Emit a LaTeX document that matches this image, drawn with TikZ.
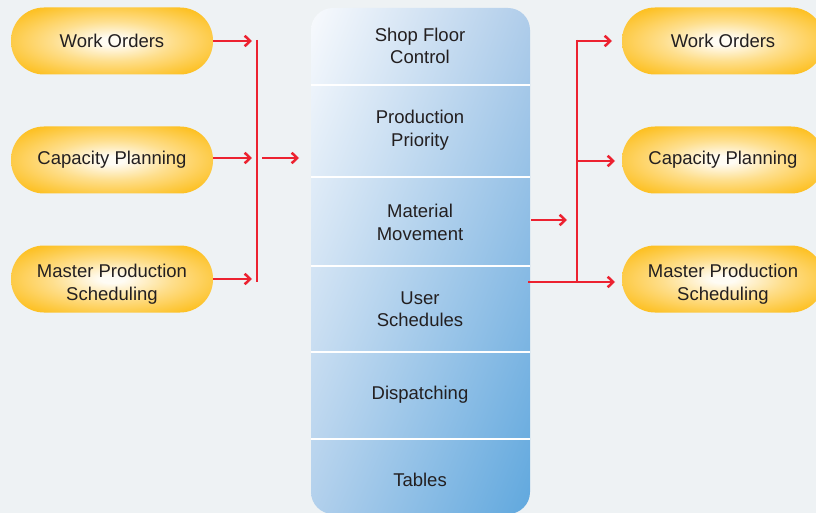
\documentclass[tikz,border=0pt]{standalone}
\usepackage{fontspec}
\setmainfont{Liberation Sans}
\usetikzlibrary{arrows.meta,shadings}
\definecolor{bg}{HTML}{EEF2F4}
\definecolor{pillout}{HTML}{FDC125}
\definecolor{pillin}{HTML}{FFFCF4}
\definecolor{arrowred}{HTML}{EC2230}
\definecolor{txt}{HTML}{231F20}
\definecolor{colUL}{HTML}{F8FAFD}
\definecolor{colUR}{HTML}{B0CDEA}
\definecolor{colLL}{HTML}{B2D0EC}
\definecolor{colLR}{HTML}{60A8DE}
\pgfdeclareradialshading{pillshade}{\pgfpoint{0bp}{0bp}}{%
  color(0bp)=(pillin); color(3bp)=(pillin); color(15bp)=(pillout!50!pillin);
  color(30bp)=(pillout); color(50bp)=(pillout)}
\newcommand{\dropby}[2]{\raisebox{-#1}[\height][\depth]{#2}}
\tikzset{
  pill/.style={shading=pillshade, shade, rounded corners=33pt,
    minimum width=202pt, minimum height=67pt, inner sep=0pt, text=txt, align=center,
    font=\fontsize{18.5}{22.5}\selectfont},
  rowtext/.style={text=txt, align=center, font=\fontsize{18.5}{22.5}\selectfont, inner sep=0pt},
  link/.style={draw=arrowred, line width=2.5pt},
  arr/.style={link, -{Straight Barb[length=5.5pt,width=10.5pt]}},
  divider/.style={draw=white, line width=2.2pt}
}
\begin{document}
\begin{tikzpicture}[x=1pt,y=-1pt]
\useasboundingbox (0,0) rectangle (816,513);
\fill[bg] (0,0) rectangle (816,513);
\clip (0,0) rectangle (816,513);
% column
\shade[upper left=colUL, upper right=colUR, lower left=colLL, lower right=colLR,
       rounded corners=22pt] (311,8) rectangle (530,514);
\coordinate (c1L) at (311,85);  \coordinate (c1R) at (530,85);
\coordinate (c2L) at (311,177); \coordinate (c2R) at (530,177);
\coordinate (c3L) at (311,266); \coordinate (c3R) at (530,266);
\coordinate (c4L) at (311,352); \coordinate (c4R) at (530,352);
\coordinate (c5L) at (311,439); \coordinate (c5R) at (530,439);
\foreach \i in {1,...,5} \draw[divider] (c\i L) -- (c\i R);
\node[rowtext] (r1) at (420,46)  {Shop Floor\\Control};
\node[rowtext] (r2) at (420,130) {Production\\Priority};
\node[rowtext] (r3) at (420,222.5) {Material\\Movement};
\node[rowtext] (r4) at (420,309) {User\\Schedules};
\node[rowtext] (r5) at (420,395) {Dispatching};
\node[rowtext] (r6) at (420,480) {Tables};
% left pills
\node[pill] (lw) at (112,41)  {Work Orders};
\node[pill] (lc) at (112,160) {Capacity Planning};
\node[pill] (lm) at (112,279) {\dropby{5.5pt}{\begin{tabular}{@{}c@{}}Master Production\\Scheduling\end{tabular}}};
% right pills
\node[pill] (rw) at (723,41)  {Work Orders};
\node[pill] (rc) at (723,160) {Capacity Planning};
\node[pill] (rm) at (723,279) {\dropby{5.5pt}{\begin{tabular}{@{}c@{}}Master Production\\Scheduling\end{tabular}}};
% left connectors
\coordinate (la1) at (252,41);
\coordinate (la2) at (252,158);
\coordinate (la3) at (252,279);
\coordinate (lbt) at (257,40);
\coordinate (lbb) at (257,282);
\coordinate (lo1) at (262,158);
\coordinate (lo2) at (299,158);
\draw[arr] (lw.east) -- (la1);
\draw[arr] (lc.east |- la2) -- (la2);
\draw[arr] (lm.east) -- (la3);
\draw[link] (lbt) -- (lbb);
\draw[arr] (lo1) -- (lo2);
% right connectors
\coordinate (mm1) at (531,220);
\coordinate (mm2) at (567,220);
\draw[arr] (mm1) -- (mm2);
\coordinate (us) at (528,282);
\coordinate (rbt) at (577,40);
\coordinate (rbb) at (577,282);
\coordinate (rt1) at (612,41);
\coordinate (rt2) at (615,161);
\coordinate (rt3) at (615,282);
\draw[link] (rbt) -- (rbb);
\draw[arr] (rbt |- rt1) -- (rt1);
\draw[arr] (rbt |- rt2) -- (rt2);
\draw[arr] (us) -- (rt3);
\end{tikzpicture}
\end{document}
